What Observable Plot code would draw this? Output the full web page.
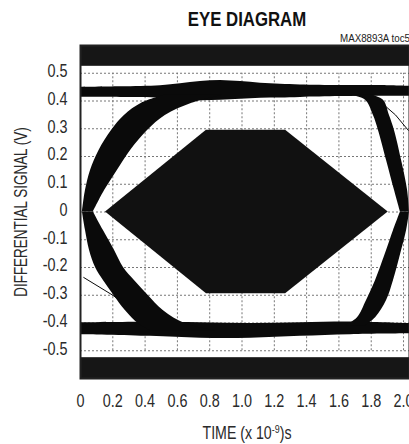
<!DOCTYPE html>
<html><head><meta charset="utf-8">
<script src="https://cdn.jsdelivr.net/npm/d3@7"></script>
<script src="https://cdn.jsdelivr.net/npm/@observablehq/plot@0.6"></script>
<style>
html,body{margin:0;padding:0;background:#fff;}
</style></head><body><div id="chart"></div>
<script>
// ---- tick values and labels ----
const yTicks = [0.5, 0.4, 0.3, 0.2, 0.1, 0, -0.1, -0.2, -0.3, -0.4, -0.5];
const yTickLabels = ["0.5","0.4","0.3","0.2","0.1","0","-0.1","-0.2","-0.3","-0.4","-0.5"];
const xTicks = [0, 0.2, 0.4, 0.6, 0.8, 1.0, 1.2, 1.4, 1.6, 1.8, 2.0];
const xTickLabels = ["0","0.2","0.4","0.6","0.8","1.0","1.2","1.4","1.6","1.8","2.0"];

// ---- screen limits (time in ns, signal in V) ----
const timeLimits = [0, 2.037];
const signalLimits = [-0.6, 0.6];
const outOfRangeBands = [[0.525, 0.6], [-0.6, -0.525]];

// ---- eye traces ----
// upper rail: time, top edge, bottom edge
const upperRailT   = [0, 0.248, 0.495, 0.619, 0.743, 0.867, 0.991, 1.115, 1.238, 1.362, 1.610, 1.858, 2.037];
const upperRailTop = [0.449, 0.451, 0.455, 0.462, 0.470, 0.474, 0.470, 0.464, 0.460, 0.458, 0.456, 0.456, 0.453];
const upperRailBot = [0.413, 0.413, 0.411, 0.405, 0.401, 0.403, 0.406, 0.410, 0.411, 0.413, 0.416, 0.417, 0.417];
// lower rail
const lowerRailT   = [0, 0.433, 0.743, 1.053, 1.362, 1.672, 2.037];
const lowerRailTop = [-0.399, -0.397, -0.399, -0.402, -0.399, -0.396, -0.402];
const lowerRailBot = [-0.442, -0.448, -0.455, -0.455, -0.448, -0.442, -0.439];
// left crossing, rising arm: signal, outer time, inner time
const riseLeftV     = [0, 0.078, 0.150, 0.222, 0.294, 0.348, 0.392, 0.421];
const riseLeftOuter = [0.012, 0.031, 0.062, 0.115, 0.192, 0.272, 0.378, 0.520];
const riseLeftInner = [0.080, 0.150, 0.228, 0.310, 0.415, 0.525, 0.690, 0.880];
// left crossing, falling arm
const fallLeftV     = [0, -0.067, -0.139, -0.200, -0.247, -0.298, -0.356, -0.403, -0.428];
const fallLeftOuter = [0.012, 0.031, 0.056, 0.093, 0.142, 0.204, 0.279, 0.359, 0.433];
const fallLeftInner = [0.080, 0.142, 0.211, 0.266, 0.334, 0.415, 0.514, 0.650, 0.836];
// right crossing, falling arm (from upper rail)
const fallRightV     = [0.421, 0.403, 0.348, 0.294, 0.186, 0.078, 0];
const fallRightInner = [1.672, 1.765, 1.814, 1.845, 1.895, 1.944, 1.981];
const fallRightOuter = [1.808, 1.876, 1.913, 1.944, 1.988, 2.025, 2.037];
// right crossing, rising arm (from lower rail)
const riseRightV     = [-0.410, -0.381, -0.319, -0.247, -0.139, -0.067, 0];
const riseRightInner = [1.641, 1.715, 1.771, 1.827, 1.895, 1.938, 1.981];
const riseRightOuter = [1.765, 1.827, 1.895, 1.938, 1.988, 2.019, 2.037];
// stray single traces
const strayLowT = [0.02, 0.20, 0.43];
const strayLowV = [-0.236, -0.300, -0.399];
const strayHighT = [1.845, 1.95, 2.03];
const strayHighV = [0.403, 0.350, 0.294];
// eye mask (hexagon): time, half-height
const maskT = [0.155, 0.78, 1.27, 1.905];
const maskH = [0, 0.295, 0.295, 0];

// ---- build tables ----
const zip = (keys, ...cols) => cols[0].map((_, i) => Object.fromEntries(keys.map((k, j) => [k, cols[j][i]])));
const upperRail = zip(["t","a","b"], upperRailT, upperRailTop, upperRailBot);
const lowerRail = zip(["t","a","b"], lowerRailT, lowerRailTop, lowerRailBot);
const riseLeft  = zip(["v","a","b"], riseLeftV, riseLeftOuter, riseLeftInner);
const fallLeft  = zip(["v","a","b"], fallLeftV, fallLeftOuter, fallLeftInner);
const fallRight = zip(["v","a","b"], fallRightV, fallRightInner, fallRightOuter);
const riseRight = zip(["v","a","b"], riseRightV, riseRightInner, riseRightOuter);
const strayLow  = zip(["t","v"], strayLowT, strayLowV);
const strayHigh = zip(["t","v"], strayHighT, strayHighV);
const mask = zip(["t","h"], maskT, maskH);
const bands = outOfRangeBands.map(([lo, hi]) => ({lo, hi}));

const FONT = "'Liberation Sans','Arial','Helvetica',sans-serif";
const INK = "#0a0a0a";

const chart = Plot.plot({
  width: 409, height: 444,
  marginLeft: 80, marginRight: 0, marginTop: 45, marginBottom: 66,
  x: {domain: timeLimits},
  y: {domain: signalLimits},
  style: {fontFamily: FONT, fontSize: "18px", color: "#2a2a2a", background: "#fff", overflow: "visible"},
  marks: [
    Plot.gridX(xTicks, {stroke: "#777", strokeOpacity: 1, strokeDasharray: "2,2", strokeWidth: 1, y1: -0.5, y2: 0.5}),
    Plot.gridY(yTicks, {stroke: "#777", strokeOpacity: 1, strokeDasharray: "2,2", strokeWidth: 1}),
    Plot.rect(bands, {x1: timeLimits[0], x2: timeLimits[1], y1: "lo", y2: "hi", fill: "#161616"}),
    Plot.areaY(upperRail, {x: "t", y1: "b", y2: "a", fill: INK, curve: "catmull-rom"}),
    Plot.areaY(lowerRail, {x: "t", y1: "b", y2: "a", fill: INK, curve: "catmull-rom"}),
    Plot.areaX(riseLeft, {y: "v", x1: "a", x2: "b", fill: INK, curve: "catmull-rom"}),
    Plot.areaX(fallLeft, {y: "v", x1: "a", x2: "b", fill: INK, curve: "catmull-rom"}),
    Plot.areaX(fallRight, {y: "v", x1: "a", x2: "b", fill: INK, curve: "catmull-rom"}),
    Plot.areaX(riseRight, {y: "v", x1: "a", x2: "b", fill: INK, curve: "catmull-rom"}),
    Plot.line(strayLow, {x: "t", y: "v", stroke: INK, strokeWidth: 1}),
    Plot.line(strayHigh, {x: "t", y: "v", stroke: INK, strokeWidth: 1}),
    Plot.areaY(mask, {x: "t", y1: d => -d.h, y2: d => d.h, fill: "#111"}),
    Plot.frame({stroke: "#222", strokeWidth: 2}),
    Plot.axisY(yTicks, {tickSize: 0, tickPadding: 13, dy: -2, tickFormat: d => yTickLabels[yTicks.indexOf(d)], label: null, fontSize: 18}),
    Plot.axisX(xTicks, {tickSize: 0, tickPadding: 16, tickFormat: d => xTickLabels[xTicks.indexOf(d)], label: null, fontSize: 18})
  ]
});
document.getElementById("chart").appendChild(chart);

// narrow the lettering (the original uses a condensed face)
function condense(el, s) {
  const t = el.getAttribute("transform") || "";
  const x = +el.getAttribute("x") || 0;
  el.setAttribute("transform", `${t} translate(${x},0) scale(${s},1) translate(${-x},0)`);
}
chart.querySelectorAll("text").forEach(el => condense(el, 0.8));

const svg = d3.select(chart);
const title = svg.append("text").attr("x", 247).attr("y", 26).attr("text-anchor", "middle")
  .attr("font-family", FONT).attr("font-weight", "bold").attr("font-size", 21).attr("fill", "#111")
  .text("EYE DIAGRAM");
condense(title.node(), 0.8);
const tag = svg.append("text").attr("x", 340).attr("y", 42).attr("text-anchor", "start")
  .attr("font-family", FONT).attr("font-size", 11.5).attr("fill", "#222")
  .text("MAX8893A toc55");
condense(tag.node(), 0.85);
const yt = svg.append("text").attr("x", 0).attr("y", 0)
  .attr("transform", "translate(27,212) rotate(-90) scale(0.77,1)").attr("text-anchor", "middle")
  .attr("font-family", FONT).attr("font-size", 17.5).attr("fill", "#2a2a2a")
  .text("DIFFERENTIAL SIGNAL (V)");
const xt = svg.append("text").attr("x", 247).attr("y", 439).attr("text-anchor", "middle")
  .attr("font-family", FONT).attr("font-size", 17.5).attr("fill", "#2a2a2a");
xt.append("tspan").text("TIME (x 10");
xt.append("tspan").attr("font-size", 11).attr("dy", -6).text("-9");
xt.append("tspan").attr("dy", 6).text(")s");
condense(xt.node(), 0.81);
</script></body></html>
